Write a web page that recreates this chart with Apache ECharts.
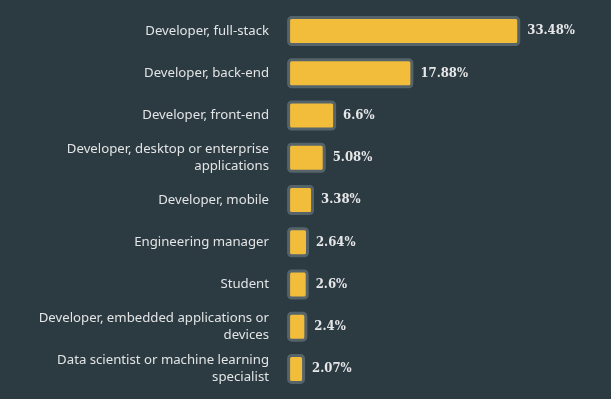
<!DOCTYPE html>
<html>
<head>
<meta charset="utf-8">
<script src="https://cdn.jsdelivr.net/npm/echarts@6/dist/echarts.min.js"></script>
<style>
html,body{margin:0;padding:0;background:#2c3a42;}
#container{width:611px;height:399px;}
</style>
</head>
<body>
<div id="container"></div>
<script>
var roles = [
  'Developer, full-stack',
  'Developer, back-end',
  'Developer, front-end',
  'Developer, desktop or enterprise\napplications',
  'Developer, mobile',
  'Engineering manager',
  'Student',
  'Developer, embedded applications or\ndevices',
  'Data scientist or machine learning\nspecialist'
];
var shares = [33.48, 17.88, 6.6, 5.08, 3.38, 2.64, 2.6, 2.4, 2.07];

var chart = echarts.init(document.getElementById('container'));

// bars drawn with a custom series so the grey outline sits outside the value extent
function drawBar(params, api) {
  var v = api.value(0);
  var start = api.coord([0, api.value(1)]);
  var end = api.coord([v, api.value(1)]);
  var h = 27;
  return {
    type: 'rect',
    shape: { x: start[0] - 0.4, y: start[1] - h / 2, width: end[0] - start[0] + 0.8, height: h, r: 3 },
    style: { fill: '#f2bd3b', stroke: '#55636a', lineWidth: 3 },
    textContent: {
      style: {
        text: v + '%',
        fill: '#e6e7e8',
        fontFamily: 'DejaVu Serif Condensed',
        fontWeight: 'bold',
        fontSize: 13
      }
    },
    textConfig: { position: 'right', distance: 7 }
  };
}

var option = {
  backgroundColor: '#2c3a42',
  animation: false,
  grid: { left: 289, right: 48, top: 10, bottom: 9 },
  xAxis: {
    type: 'value',
    min: 0,
    max: 40,
    show: false
  },
  yAxis: {
    type: 'category',
    data: roles,
    inverse: true,
    axisLine: { show: false },
    axisTick: { show: false },
    axisLabel: {
      color: '#e2e4e5',
      fontFamily: 'Noto Sans',
      fontSize: 13.2,
      lineHeight: 16.5,
      margin: 20,
      align: 'right'
    }
  },
  series: [{
    type: 'custom',
    renderItem: drawBar,
    encode: { x: 0, y: 1 },
    data: shares.map(function (v, i) { return [v, i]; })
  }]
};
chart.setOption(option);
</script>
</body>
</html>
